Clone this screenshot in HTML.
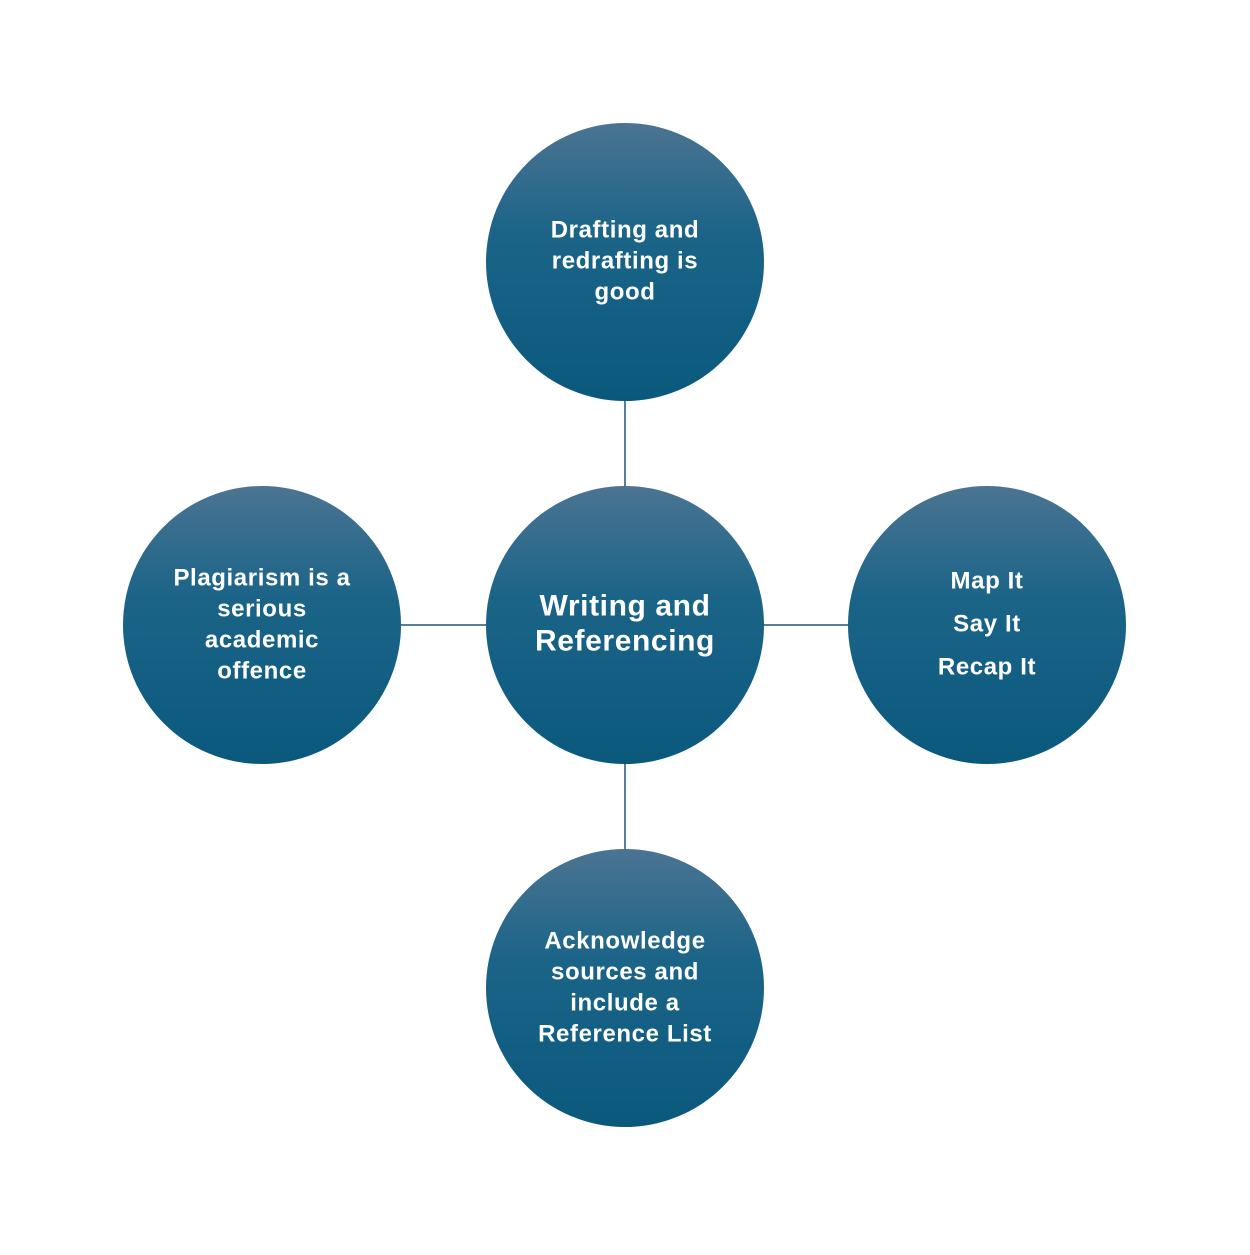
<!DOCTYPE html>
<html><head><style>html,body{margin:0;padding:0;background:#fff}</style></head><body>
<svg width="1250" height="1250" xmlns="http://www.w3.org/2000/svg">
<defs><linearGradient id="g" x1="0" y1="0" x2="0" y2="1">
<stop offset="0" stop-color="#4b7492"/><stop offset="0.4" stop-color="#1b6488"/><stop offset="1" stop-color="#0a597d"/></linearGradient></defs>
<g stroke="#1e5673" stroke-width="1.5">
<line x1="625" y1="400" x2="625" y2="487"/><line x1="625" y1="763" x2="625" y2="850"/>
<line x1="400" y1="625" x2="487" y2="625"/><line x1="763" y1="625" x2="850" y2="625"/></g>
<g fill="url(#g)">
<circle cx="625" cy="625" r="139"/><circle cx="625" cy="262" r="139"/><circle cx="625" cy="988" r="139"/>
<circle cx="262" cy="625" r="139"/><circle cx="987" cy="625" r="139"/></g>
<g fill="#fff" font-family="Liberation Sans, sans-serif" font-weight="bold" text-anchor="middle" dominant-baseline="central" font-size="24" letter-spacing="0.6">
<text x="625" y="606" font-size="30">Writing and</text><text x="625" y="641" font-size="30">Referencing</text>
<text x="625" y="230">Drafting and</text><text x="625" y="261">redrafting is</text><text x="625" y="292">good</text>
<text x="262" y="578">Plagiarism is a</text><text x="262" y="609">serious</text><text x="262" y="640">academic</text><text x="262" y="671">offence</text>
<text x="987" y="581">Map It</text><text x="987" y="624">Say It</text><text x="987" y="667">Recap It</text>
<text x="625" y="941">Acknowledge</text><text x="625" y="972">sources and</text><text x="625" y="1003">include a</text><text x="625" y="1034">Reference List</text>
</g></svg>
</body></html>
